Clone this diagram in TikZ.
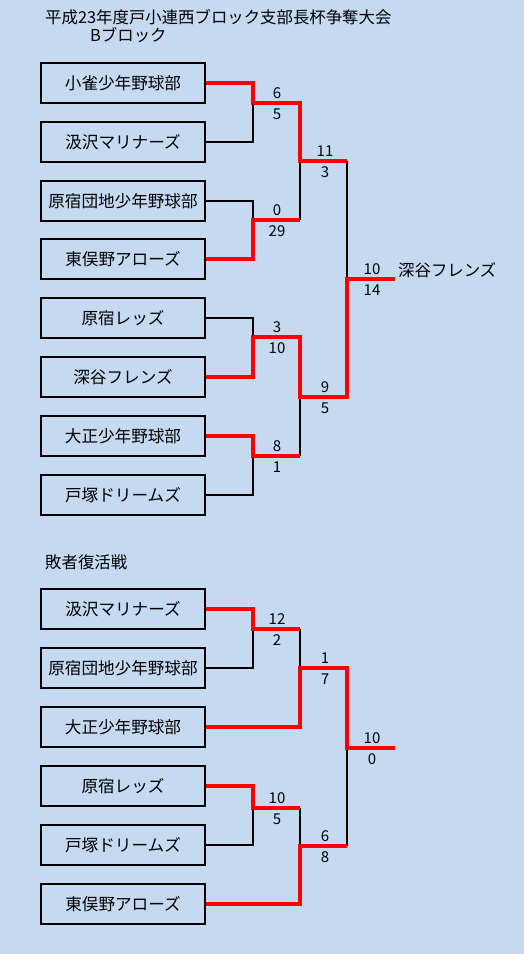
\documentclass[tikz,border=0pt]{standalone}
\usepackage{fontspec}
\setmainfont{Noto Sans CJK JP}
\definecolor{bg}{HTML}{C5D9F1}
\definecolor{winred}{HTML}{FF0000}
\begin{document}
\begin{tikzpicture}[x=1pt,y=-1pt,
  team/.style={draw=black, line width=1.1pt, minimum width=164pt, minimum height=40pt, inner sep=0pt, font=\fontsize{16.6}{16.6}\selectfont},
  lose/.style={draw=black, line width=1.1pt},
  won/.style={draw=winred, line width=4.5pt},
  score/.style={font=\fontsize{15}{15}\selectfont, inner sep=0pt},
  label/.style={font=\fontsize{16.4}{16.4}\selectfont, inner sep=0pt, anchor=west}]
\fill[bg] (0,0) rectangle (524,954);
\useasboundingbox (0,0) rectangle (524,954);

\node[label] (title) at (45,17) {平成23年度戸小連西ブロック支部長杯争奪大会};
\node[label] (block) at (90,35) {Bブロック};
\node[label] (repe) at (45,562) {敗者復活戦};

% top teams
\node[team] (t1) at (123,83) {小雀少年野球部};
\node[team] (t2) at (123,142) {汲沢マリナーズ};
\node[team] (t3) at (123,201) {原宿団地少年野球部};
\node[team] (t4) at (123,259) {東俣野アローズ};
\node[team] (t5) at (123,318) {原宿レッズ};
\node[team] (t6) at (123,377) {深谷フレンズ};
\node[team] (t7) at (123,436) {大正少年野球部};
\node[team] (t8) at (123,495) {戸塚ドリームズ};

\coordinate (m1a) at (253,103); \coordinate (m1b) at (300,103);
\coordinate (m2a) at (253,220); \coordinate (m2b) at (300,220);
\coordinate (m3a) at (253,337); \coordinate (m3b) at (300,337);
\coordinate (m4a) at (253,456); \coordinate (m4b) at (300,456);
\coordinate (s1a) at (300,161); \coordinate (s1b) at (347,161);
\coordinate (s2a) at (300,397); \coordinate (s2b) at (347,397);
\coordinate (fa) at (347,279); \coordinate (fb) at (395,279);

\draw[lose] (t2.east) -| (m1a);
\draw[lose] (t3.east) -| (m2a);
\draw[lose] (m2b) -- (s1a);
\draw[lose] (t5.east) -| (m3a);
\draw[lose] (t8.east) -| (m4a);
\draw[lose] (m4b) -- (s2a);
\draw[lose] (s1b) -- (fa);

\draw[won] (t1.east) -| (m1a) -- (m1b) -- (s1a) -- (s1b);
\draw[won] (t4.east) -| (m2a) -- (m2b);
\draw[won] (t6.east) -| (m3a) -- (m3b) -- (s2a) -- (s2b) -- (fa) -- (fb);
\draw[won] (t7.east) -| (m4a) -- (m4b);

\node[score] (sc1u) at (277,93) {6};  \node[score] (sc1d) at (277,114) {5};
\node[score] (sc2u) at (277,210) {0}; \node[score] (sc2d) at (277,231) {29};
\node[score] (sc3u) at (277,327) {3}; \node[score] (sc3d) at (277,348) {10};
\node[score] (sc4u) at (277,446) {8}; \node[score] (sc4d) at (277,467) {1};
\node[score] (sc5u) at (325,151) {11}; \node[score] (sc5d) at (325,172) {3};
\node[score] (sc6u) at (325,387) {9}; \node[score] (sc6d) at (325,408) {5};
\node[score] (sc7u) at (372,269) {10}; \node[score] (sc7d) at (372,290) {14};
\node[label] (champ) at (398,270) {深谷フレンズ};

% bottom teams
\node[team] (u1) at (123,609) {汲沢マリナーズ};
\node[team] (u2) at (123,668) {原宿団地少年野球部};
\node[team] (u3) at (123,727) {大正少年野球部};
\node[team] (u4) at (123,786) {原宿レッズ};
\node[team] (u5) at (123,845) {戸塚ドリームズ};
\node[team] (u6) at (123,904) {東俣野アローズ};

\coordinate (b1a) at (253,629); \coordinate (b1b) at (300,629);
\coordinate (c1a) at (300,668); \coordinate (c1b) at (347,668);
\coordinate (b2a) at (253,808); \coordinate (b2b) at (300,808);
\coordinate (c2a) at (300,846); \coordinate (c2b) at (347,846);
\coordinate (ga) at (347,748); \coordinate (gb) at (395,748);

\draw[lose] (u2.east) -| (b1a);
\draw[lose] (b1b) -- (c1a);
\draw[lose] (u5.east) -| (b2a);
\draw[lose] (b2b) -- (c2a);
\draw[lose] (c2b) -- (ga);

\draw[won] (u1.east) -| (b1a) -- (b1b);
\draw[won] (u3.east) -| (c1a) -- (c1b) -- (ga) -- (gb);
\draw[won] (u4.east) -| (b2a) -- (b2b);
\draw[won] (u6.east) -| (c2a) -- (c2b);

\node[score] (sd1u) at (277,619) {12}; \node[score] (sd1d) at (277,640) {2};
\node[score] (sd2u) at (325,658) {1}; \node[score] (sd2d) at (325,679) {7};
\node[score] (sd3u) at (372,738) {10}; \node[score] (sd3d) at (372,759) {0};
\node[score] (sd4u) at (277,798) {10}; \node[score] (sd4d) at (277,819) {5};
\node[score] (sd5u) at (325,836) {6}; \node[score] (sd5d) at (325,857) {8};
\end{tikzpicture}
\end{document}
